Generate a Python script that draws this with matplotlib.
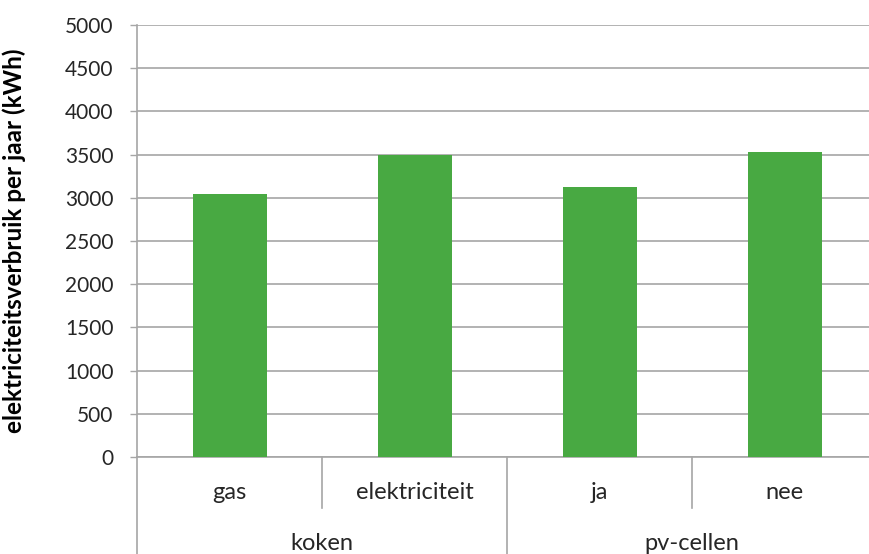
import matplotlib.pyplot as plt

# data
categories = ['gas', 'elektriciteit', 'ja', 'nee']
groups = ['koken', 'pv-cellen']
group_sizes = [2, 2]
verbruik = [3045, 3495, 3130, 3535]

bar_color = '#48A942'
grid_color = '#A6A6A6'
plt.rcParams['font.family'] = ['Lato', 'DejaVu Sans']

fig = plt.figure(figsize=(8.69, 5.54), dpi=100)
ax = fig.add_axes([137 / 869, 1 - 457 / 554, 740 / 869, 432 / 554])

x = list(range(len(categories)))
ax.bar(x, verbruik, width=0.4, color=bar_color, zorder=3)

ax.set_xlim(-0.5, len(categories) - 0.5)
ax.set_ylim(0, 5000)
ax.set_yticks(range(0, 5001, 500))
ax.yaxis.grid(True, color=grid_color, linewidth=1.2, zorder=0)
ax.tick_params(axis='y', direction='out', length=5, width=1, color=grid_color,
               pad=12, labelsize=15, labelcolor='#262626')
ax.set_xticks([])

for s in ['top', 'right']:
    ax.spines[s].set_visible(False)
for s in ['left', 'bottom']:
    ax.spines[s].set_color(grid_color)
    ax.spines[s].set_linewidth(1.2)

ax.set_ylabel('elektriciteitsverbruik per jaar (kWh)', fontsize=17.5,
              fontweight='bold', color='black')
ax.yaxis.set_label_coords(-0.15, 0.5)

# multi-level category axis
trans = ax.get_xaxis_transform()
for xi, lab in zip(x, categories):
    ax.text(xi, -0.082, lab, transform=trans, ha='center', va='center',
            fontsize=17, color='#262626')

start = 0
for g, n in zip(groups, group_sizes):
    mid = start + (n - 1) / 2
    ax.text(mid, -0.2, g, transform=trans, ha='center', va='center',
            fontsize=17, color='#262626')
    # separators inside the group
    for k in range(1, n):
        ax.plot([start + k - 0.5] * 2, [0, -0.118], transform=trans,
                color=grid_color, linewidth=1.2, clip_on=False)
    # group boundary
    ax.plot([start - 0.5] * 2, [0, -0.3], transform=trans,
            color=grid_color, linewidth=1.2, clip_on=False)
    start += n

fig.savefig('out.png', dpi=100)
